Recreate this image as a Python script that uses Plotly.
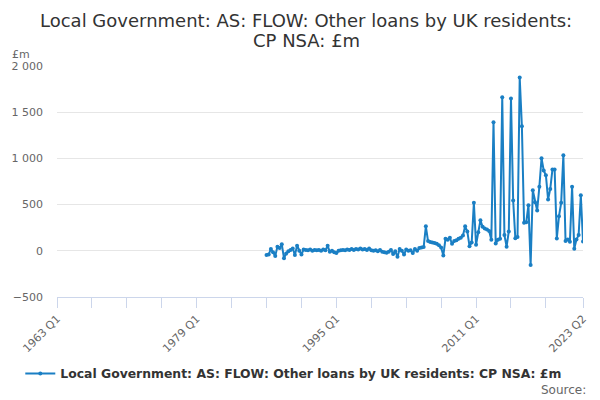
import plotly.graph_objects as go

# quarterly values, 1987 Q1 .. 2023 Q2 (GBP million)
start_year = 1987
values = [
    -45, -40, 20, -15,      # 1987
    -55, 45, 30, 70,        # 1988
    -80, -30, -5, 10,       # 1989
    25, -45, 55, 0,         # 1990
    -40, 15, 10, 5,         # 1991
    15, 0, 10, 5,           # 1992
    10, 0, 15, 5,           # 1993
    55, -10, 0, -15,        # 1994
    -25, 0, 5, 10,          # 1995
    5, 15, 10, 20,          # 1996
    10, 20, 15, 25,         # 1997
    15, 20, 10, 25,         # 1998
    5, 0, 5, -5,            # 1999
    10, -10, -15, -20,      # 2000
    -10, 10, -35, -5,       # 2001
    -65, 20, 0, -40,        # 2002
    15, 0, 5, -25,          # 2003
    20, 0, 30, 35,          # 2004
    40, 265, 105, 95,       # 2005
    90, 85, 75, 60,         # 2006
    35, -50, 130, 120,      # 2007
    140, 75, 105, 115,      # 2008
    130, 140, 165, 265,     # 2009
    210, 50, 90, 519,       # 2010
    65, 200, 330, 260,      # 2011
    240, 230, 215, 120,     # 2012
    1391, 80, 120, 130,     # 2013
    1662, 170, 45, 210,     # 2014
    1647, 544, 135, 150,    # 2015
    1875, 1348, 303, 310,   # 2016
    494, -155, 656, 526,    # 2017
    436, 692, 1002, 869,    # 2018
    818, 555, 670, 880,     # 2019
    880, 133, 375, 519,     # 2020
    1035, 105, 122, 97,     # 2021
    692, 22, 122, 170,      # 2022
    602, 101,               # 2023
]

labels = [f"{start_year + i // 4} Q{i % 4 + 1}" for i in range(len(values))]
x = [start_year + i / 4 for i in range(len(values))]

# axis ticks every 4 years, labels every 16 years plus the last quarter
tick_vals = [1963 + 4 * k for k in range(15)] + [2023.25]
tick_text = ["1963 Q1", "", "", "", "1979 Q1", "", "", "", "1995 Q1", "", "", "",
             "2011 Q1", "", "", "2023 Q2"]

title_lines = ["Local Government: AS: FLOW: Other loans by UK residents:", "CP NSA: £m"]
series_name = "Local Government: AS: FLOW: Other loans by UK residents: CP NSA: £m"
blue = "#1a7fc4"

fig = go.Figure()
fig.add_trace(go.Scatter(
    x=x, y=values, text=labels, name=series_name,
    mode="lines+markers",
    line=dict(color=blue, width=2),
    marker=dict(color=blue, size=4),
    hovertemplate="%{text}: %{y}<extra></extra>",
))

fig.update_layout(
    width=600, height=400,
    margin=dict(l=57, r=17, t=66, b=102),
    plot_bgcolor="white", paper_bgcolor="white",
    font=dict(family="DejaVu Sans", color="#333333"),
    separators=". ",
    showlegend=True,
    legend=dict(
        orientation="h", x=-0.0698, xanchor="left", y=-0.3276, yanchor="middle",
        itemwidth=30,
        font=dict(size=12.4, color="#333333", weight="bold"),
    ),
    xaxis=dict(
        range=[1963, 2023.25], automargin=False,
        tickmode="array", tickvals=tick_vals, ticktext=tick_text,
        tickangle=-45, ticks="outside", ticklen=10, tickcolor="#ccd6eb",
        showline=True, linecolor="#ccd6eb", showgrid=False, zeroline=False,
        tickfont=dict(size=11, color="#666666"),
    ),
    yaxis=dict(
        range=[-500, 2000], tickvals=[-500, 0, 500, 1000, 1500, 2000],
        automargin=False, ticklabelstandoff=13,
        tickformat=",", showgrid=True, gridcolor="#e6e6e6", zeroline=False,
        showline=False, tickfont=dict(size=11, color="#666666"),
    ),
    annotations=[
        dict(text=title_lines[0], xref="paper", yref="paper", x=0.4734, y=1.1983,
             xanchor="center", yanchor="middle", showarrow=False,
             font=dict(size=18, color="#333333")),
        dict(text=title_lines[1], xref="paper", yref="paper", x=0.4734, y=1.1121,
             xanchor="center", yanchor="middle", showarrow=False,
             font=dict(size=18, color="#333333")),
        dict(text="£m", xref="paper", yref="paper", x=-0.0894, y=1.0517,
             xanchor="left", yanchor="middle", showarrow=False,
             font=dict(size=11, color="#666666")),
        dict(text="Source:", xref="paper", yref="paper", x=1.0095, y=-0.4009,
             xanchor="right", yanchor="middle", showarrow=False,
             font=dict(size=12, color="#666666")),
    ],
)

# drop the page's default 8px body margin so the figure fills the window
fig.write_html(
    "out.html",
    config={"displayModeBar": False},
    post_script="document.body.style.margin='0';"
                "document.body.style.overflow='hidden';"
                "document.documentElement.style.overflow='hidden';",
)
